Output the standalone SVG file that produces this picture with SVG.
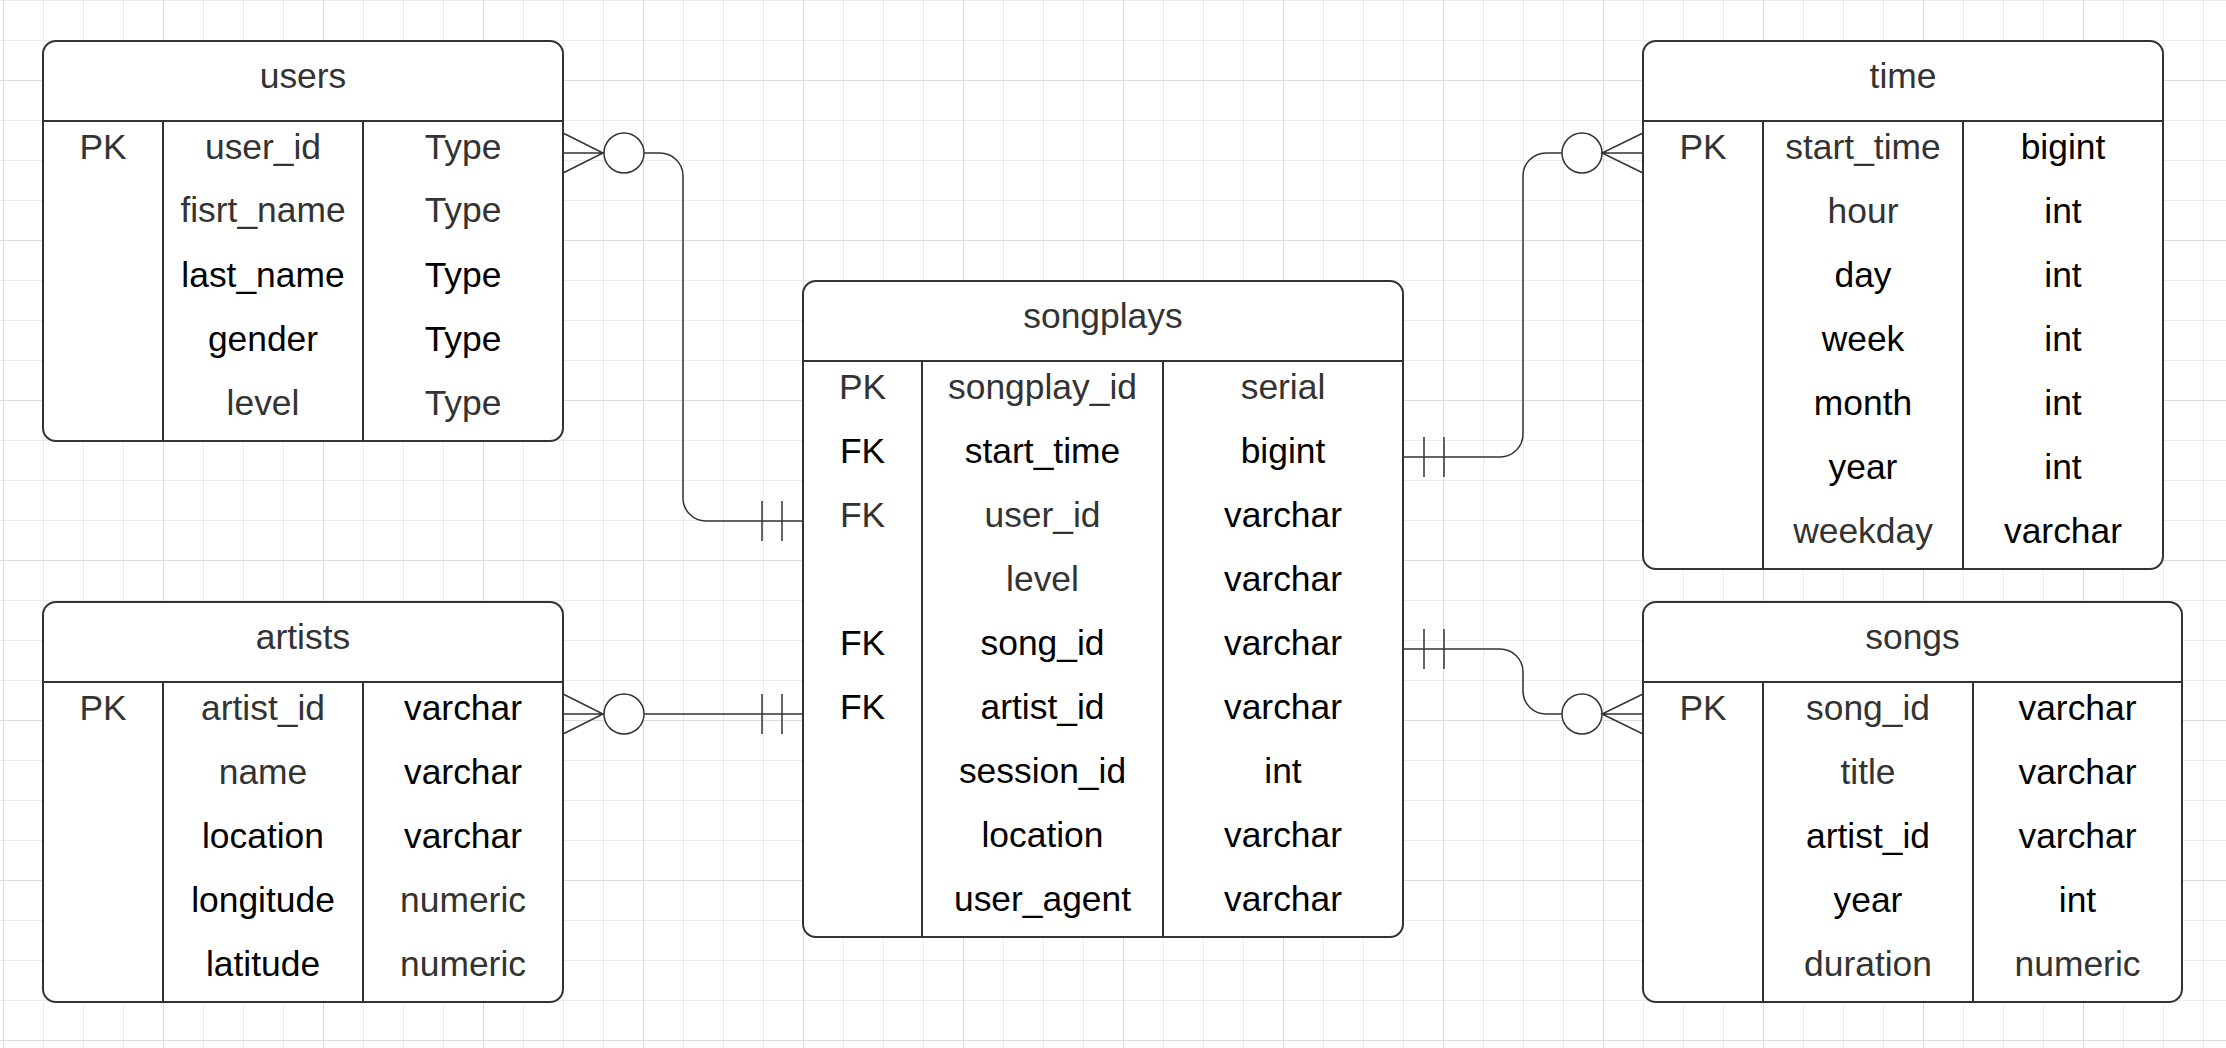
<svg xmlns="http://www.w3.org/2000/svg" width="2226" height="1048" viewBox="0 0 2226 1048">
<defs>
<pattern id="grid" patternUnits="userSpaceOnUse" x="3" y="80" width="160" height="160">
<path d="M40.5 0V160M80.5 0V160M120.5 0V160M0 40.5H160M0 80.5H160M0 120.5H160" fill="none" stroke="#ececec" stroke-width="1"/>
<path d="M0.5 0V160M0 0.5H160" fill="none" stroke="#dcdcdc" stroke-width="1"/>
</pattern>
</defs>
<style>
.box{fill:#fff;stroke:#333;stroke-width:2}
.ln{stroke:#333;stroke-width:2;fill:none}
.conn{stroke:#333;stroke-width:1.5;fill:none}
.circ{stroke:#333;stroke-width:1.5;fill:#fff}
text{font-family:"Liberation Sans",Arial,sans-serif;font-size:35.4px;text-anchor:middle}
.g{fill:#333}
.k{fill:#000}
</style>
<rect width="2226" height="1048" fill="#fff"/>
<rect width="2226" height="1048" fill="url(#grid)"/>

<g id="connectors">
<!-- users - songplays -->
<path class="conn" d="M563 133L603 153L563 173M563 153H604"/>
<circle class="circ" cx="624" cy="153" r="20"/>
<path class="conn" d="M644 153H660A23 23 0 0 1 683 176V498A23 23 0 0 0 706 521H803M762 501V541M782 501V541"/>
<!-- artists - songplays -->
<path class="conn" d="M563 694L603 714L563 734M563 714H604"/>
<circle class="circ" cx="624" cy="714" r="20"/>
<path class="conn" d="M644 714H803M762 694V734M782 694V734"/>
<!-- songplays - time -->
<path class="conn" d="M1403 457H1500A23 23 0 0 0 1523 434V176A23 23 0 0 1 1546 153H1562M1424 437V477M1444 437V477"/>
<circle class="circ" cx="1582" cy="153" r="20"/>
<path class="conn" d="M1643 133L1602 153L1643 173M1602 153H1643"/>
<!-- songplays - songs -->
<path class="conn" d="M1403 649H1500A23 23 0 0 1 1523 672V691A23 23 0 0 0 1546 714H1562M1424 629V669M1444 629V669"/>
<circle class="circ" cx="1582" cy="714" r="20"/>
<path class="conn" d="M1643 694L1602 714L1643 734M1602 714H1643"/>
</g>

<g id="users">
<rect class="box" x="43" y="41" width="520" height="400" rx="13"/>
<path class="ln" d="M43 121H563M163 121V441M363 121V441"/>
<text class="g" x="303" y="88">users</text>
<text class="g" x="103" y="159">PK</text>
<text class="g" x="263" y="159">user_id</text>
<text class="g" x="463" y="159">Type</text>
<text class="g" x="263" y="222">fisrt_name</text>
<text class="g" x="463" y="222">Type</text>
<text class="k" x="263" y="287">last_name</text>
<text class="k" x="463" y="287">Type</text>
<text class="k" x="263" y="351">gender</text>
<text class="k" x="463" y="351">Type</text>
<text class="g" x="263" y="415">level</text>
<text class="g" x="463" y="415">Type</text>
</g>

<g id="artists">
<rect class="box" x="43" y="602" width="520" height="400" rx="13"/>
<path class="ln" d="M43 682H563M163 682V1002M363 682V1002"/>
<text class="g" x="303" y="649">artists</text>
<text class="g" x="103" y="720">PK</text>
<text class="g" x="263" y="720">artist_id</text>
<text class="k" x="463" y="720">varchar</text>
<text class="g" x="263" y="784">name</text>
<text class="k" x="463" y="784">varchar</text>
<text class="k" x="263" y="848">location</text>
<text class="k" x="463" y="848">varchar</text>
<text class="k" x="263" y="912">longitude</text>
<text class="g" x="463" y="912">numeric</text>
<text class="k" x="263" y="976">latitude</text>
<text class="g" x="463" y="976">numeric</text>
</g>

<g id="songplays">
<rect class="box" x="803" y="281" width="600" height="656" rx="13"/>
<path class="ln" d="M803 361H1403M922 361V937M1163 361V937"/>
<text class="g" x="1103" y="328">songplays</text>
<text class="g" x="862.5" y="399">PK</text>
<text class="g" x="1042.5" y="399">songplay_id</text>
<text class="g" x="1283" y="399">serial</text>
<text class="k" x="862.5" y="463">FK</text>
<text class="k" x="1042.5" y="463">start_time</text>
<text class="k" x="1283" y="463">bigint</text>
<text class="g" x="862.5" y="527">FK</text>
<text class="g" x="1042.5" y="527">user_id</text>
<text class="k" x="1283" y="527">varchar</text>
<text class="g" x="1042.5" y="591">level</text>
<text class="k" x="1283" y="591">varchar</text>
<text class="k" x="862.5" y="655">FK</text>
<text class="k" x="1042.5" y="655">song_id</text>
<text class="k" x="1283" y="655">varchar</text>
<text class="k" x="862.5" y="719">FK</text>
<text class="k" x="1042.5" y="719">artist_id</text>
<text class="k" x="1283" y="719">varchar</text>
<text class="k" x="1042.5" y="783">session_id</text>
<text class="k" x="1283" y="783">int</text>
<text class="k" x="1042.5" y="847">location</text>
<text class="k" x="1283" y="847">varchar</text>
<text class="k" x="1042.5" y="911">user_agent</text>
<text class="k" x="1283" y="911">varchar</text>
</g>

<g id="time">
<rect class="box" x="1643" y="41" width="520" height="528" rx="13"/>
<path class="ln" d="M1643 121H2163M1763 121V569M1963 121V569"/>
<text class="g" x="1903" y="88">time</text>
<text class="g" x="1703" y="159">PK</text>
<text class="g" x="1863" y="159">start_time</text>
<text class="k" x="2063" y="159">bigint</text>
<text class="g" x="1863" y="223">hour</text>
<text class="k" x="2063" y="223">int</text>
<text class="k" x="1863" y="287">day</text>
<text class="k" x="2063" y="287">int</text>
<text class="k" x="1863" y="351">week</text>
<text class="k" x="2063" y="351">int</text>
<text class="k" x="1863" y="415">month</text>
<text class="k" x="2063" y="415">int</text>
<text class="k" x="1863" y="479">year</text>
<text class="k" x="2063" y="479">int</text>
<text class="g" x="1863" y="543">weekday</text>
<text class="k" x="2063" y="543">varchar</text>
</g>

<g id="songs">
<rect class="box" x="1643" y="602" width="539" height="400" rx="13"/>
<path class="ln" d="M1643 682H2182M1763 682V1002M1973 682V1002"/>
<text class="g" x="1912.5" y="649">songs</text>
<text class="g" x="1703" y="720">PK</text>
<text class="g" x="1868" y="720">song_id</text>
<text class="k" x="2077.5" y="720">varchar</text>
<text class="g" x="1868" y="784">title</text>
<text class="k" x="2077.5" y="784">varchar</text>
<text class="k" x="1868" y="848">artist_id</text>
<text class="k" x="2077.5" y="848">varchar</text>
<text class="k" x="1868" y="912">year</text>
<text class="k" x="2077.5" y="912">int</text>
<text class="g" x="1868" y="976">duration</text>
<text class="g" x="2077.5" y="976">numeric</text>
</g>
</svg>
